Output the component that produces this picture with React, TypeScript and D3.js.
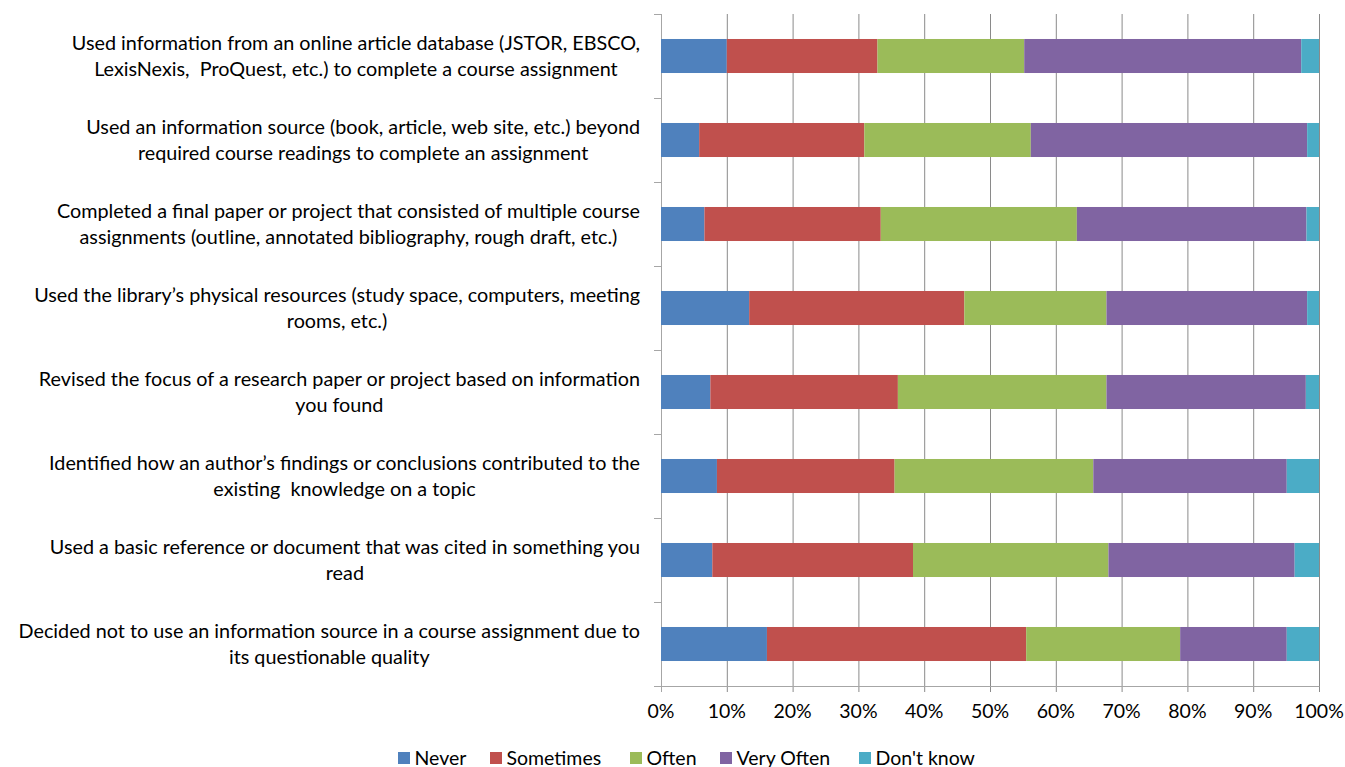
import React, { useEffect, useRef } from "react";
import * as d3 from "d3";

const categories: string[][] = [
  ["Used information from an online article database (JSTOR, EBSCO,", "LexisNexis,  ProQuest, etc.) to complete a course assignment"],
  ["Used an information source (book, article, web site, etc.) beyond", "required course readings to complete an assignment"],
  ["Completed a final paper or project that consisted of multiple course", "assignments (outline, annotated bibliography, rough draft, etc.)"],
  ["Used the library’s physical resources (study space, computers, meeting", "rooms, etc.)"],
  ["Revised the focus of a research paper or project based on information", "you found"],
  ["Identified how an author’s findings or conclusions contributed to the", "existing  knowledge on a topic"],
  ["Used a basic reference or document that was cited in something you", "read"],
  ["Decided not to use an information source in a course assignment due to", "its questionable quality"],
];

const seriesNames = ["Never", "Sometimes", "Often", "Very Often", "Don't know"];
const seriesColors = ["#4F81BD", "#C0504D", "#9BBB59", "#8064A2", "#4BACC6"];

const never = [10.0, 5.8, 6.6, 13.4, 7.5, 8.5, 7.8, 16.1];
const sometimes = [22.9, 25.1, 26.8, 32.7, 28.5, 27.0, 30.5, 39.4];
const often = [22.3, 25.3, 29.8, 21.6, 31.7, 30.2, 29.7, 23.4];
const veryOften = [42.1, 42.0, 34.9, 30.5, 30.3, 29.4, 28.3, 16.2];
const dontKnow = [2.7, 1.8, 1.9, 1.8, 2.0, 4.9, 3.7, 4.9];

const xTicks = [0, 10, 20, 30, 40, 50, 60, 70, 80, 90, 100];

const FONT = "Lato, 'Open Sans', sans-serif";
const FS = 19.8;
const FS_SMALL = 19.5;

export default function App() {
  const ref = useRef<SVGSVGElement>(null);

  useEffect(() => {
    const svg = d3.select(ref.current);
    svg.selectAll("*").remove();

    const left = 661, right = 1319, top = 14, bottom = 686;
    const x = d3.scaleLinear().domain([0, 100]).range([left, right]);
    const y = d3.scaleBand<number>().domain(d3.range(categories.length)).range([top, bottom]).paddingInner(0.595).paddingOuter(0.2975);

    const rows = categories.map((_, i) => ({
      i,
      vals: [never[i], sometimes[i], often[i], veryOften[i], dontKnow[i]],
    }));

    // gridlines
    const g = svg.append("g");
    xTicks.forEach((t) => {
      g.append("line")
        .attr("x1", x(t) + 0.5).attr("x2", x(t) + 0.5)
        .attr("y1", top).attr("y2", bottom + 6)
        .attr("stroke", t === 0 ? "#a6a6a6" : "#8a8a8a").attr("stroke-width", 1);
    });
    // bottom axis line
    g.append("line").attr("x1", left - 7).attr("x2", right + 0.5)
      .attr("y1", bottom + 0.5).attr("y2", bottom + 0.5).attr("stroke", "#a6a6a6");
    // category ticks
    const step = (bottom - top) / categories.length;
    d3.range(categories.length + 1).forEach((k) => {
      const yy = Math.round(top + k * step) + 0.5;
      g.append("line").attr("x1", left - 7).attr("x2", left)
        .attr("y1", yy).attr("y2", yy).attr("stroke", "#a6a6a6");
    });

    // bars
    const stack = d3.stack<any>().keys(["0", "1", "2", "3", "4"]).value((d, k) => d.vals[+k]);
    const series = stack(rows as any);
    series.forEach((s, si) => {
      svg.append("g").attr("fill", seriesColors[si])
        .selectAll("rect").data(s).join("rect")
        .attr("x", (d) => x(d[0]))
        .attr("width", (d) => x(Math.min(100, d[1])) - x(d[0]))
        .attr("y", (d: any) => y(d.data.i)!)
        .attr("height", y.bandwidth());
    });

    // category labels
    const lg = svg.append("g").attr("font-family", FONT).attr("font-size", FS).attr("fill", "#000");
    categories.forEach((lines, i) => {
      const cy = y(i)! + y.bandwidth() / 2;
      const texts = lines.map((ln, j) =>
        lg.append("text").style("white-space", "pre")
          .attr("y", cy + (j - (lines.length - 1) / 2) * 26)
          .attr("dy", "0.35em").attr("text-anchor", "middle").text(ln)
      );
      const widths = texts.map((t) => (t.node() as SVGTextElement).getComputedTextLength());
      const maxW = d3.max(widths) || 0;
      const cx = 640 - maxW / 2;
      texts.forEach((t) => t.attr("x", cx));
    });

    // x tick labels
    const tg = svg.append("g").attr("font-family", FONT).attr("font-size", FS_SMALL).attr("fill", "#000");
    xTicks.forEach((t) => {
      tg.append("text").attr("x", x(t)).attr("y", 718).attr("text-anchor", "middle").text(`${t}%`);
    });

    // legend
    const legX = [398, 490, 630, 720, 859];
    const legG = svg.append("g").attr("font-family", FONT).attr("font-size", FS_SMALL);
    seriesNames.forEach((n, i) => {
      legG.append("rect").attr("x", legX[i]).attr("y", 752).attr("width", 12).attr("height", 12).attr("fill", seriesColors[i]);
      legG.append("text").attr("x", legX[i] + 16.5).attr("y", 764.5).attr("fill", "#000").text(n);
    });
  }, []);

  return (
    <svg ref={ref} width={1345} height={767} style={{ position: "absolute", left: 0, top: 0, background: "#fff" }} />
  );
}
